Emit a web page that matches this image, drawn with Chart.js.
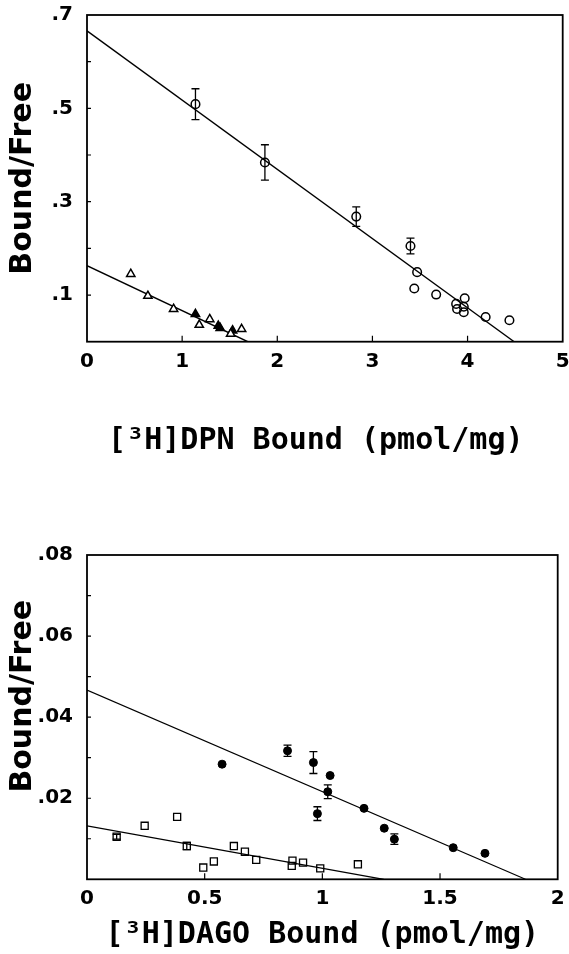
<!DOCTYPE html>
<html>
<head>
<meta charset="utf-8">
<script src="https://cdn.jsdelivr.net/npm/chart.js@4.4.1/dist/chart.umd.min.js"></script>
<style>
    body { margin: 0; background: #fff; }
    .panel { position: absolute; left: 0; width: 569px; }
    #topPanel { top: 0; height: 460px; }
    #bottomPanel { top: 460px; height: 494px; }
</style>
</head>
<body>
<div class="panel" id="topPanel"><canvas id="dpnChart"></canvas></div>
<div class="panel" id="bottomPanel"><canvas id="dagoChart"></canvas></div>
<script>
// [3H]DPN panel - open circles (with a few error bars)
let dpnX   = [1.14, 1.87, 2.83, 3.40, 3.47, 3.44, 3.67, 3.88, 3.89, 3.97, 3.96, 3.96, 4.19, 4.44];
let dpnY   = [0.509, 0.384, 0.268, 0.205, 0.149, 0.114, 0.101, 0.081, 0.070, 0.093, 0.075, 0.063, 0.053, 0.046];
let dpnErr = [0.033, 0.038, 0.021, 0.017, 0, 0, 0, 0, 0, 0, 0, 0, 0, 0];

// [3H]DPN panel - triangles (open and filled)
let triOpenX   = [0.46, 0.64, 0.91, 1.18, 1.29, 1.51, 1.625];
let triOpenY   = [0.145, 0.098, 0.070, 0.036, 0.048, 0.017, 0.027];
let triFilledX = [1.14, 1.38, 1.40, 1.53];
let triFilledY = [0.059, 0.034, 0.029, 0.024];

// [3H]DPN fit lines (end points)
let dpnFitHighX = [0, 4.49];
let dpnFitHighY = [0.666, 0];
let dpnFitLowX  = [0, 1.69];
let dpnFitLowY  = [0.163, 0];

// [3H]DAGO panel - filled circles
let dagoX   = [0.574, 0.852, 0.962, 1.033, 1.023, 0.979, 1.177, 1.263, 1.306, 1.556, 1.691];
let dagoY   = [0.0284, 0.0317, 0.0288, 0.0256, 0.0216, 0.0162, 0.0175, 0.0126, 0.0099, 0.0078, 0.0064];
let dagoErr = [0, 0.0014, 0.0027, 0, 0.0017, 0.0017, 0, 0, 0.0013, 0, 0];

// [3H]DAGO panel - open squares
let sqX   = [0.126, 0.245, 0.383, 0.424, 0.494, 0.539, 0.624, 0.671, 0.719, 0.873, 0.870, 0.918, 0.991, 1.151];
let sqY   = [0.0105, 0.0132, 0.0154, 0.0082, 0.0029, 0.0044, 0.0082, 0.0068, 0.0048, 0.0046, 0.0033, 0.0041, 0.0027, 0.0037];
let sqErr = [0.0006, 0, 0, 0.0009, 0, 0, 0, 0, 0, 0, 0, 0, 0, 0];

// [3H]DAGO fit lines
let dagoFitHighX = [0, 1.863];
let dagoFitHighY = [0.0467, 0];
let dagoFitLowX  = [0, 1.261];
let dagoFitLowY  = [0.0132, 0];

// axis ticks
let dpnXTicks  = [0, 1, 2, 3, 4, 5];
let dagoXTicks = [0, 0.5, 1, 1.5, 2];

function toPoints(xs, ys) {
    return xs.map((x, i) => ({ x: x, y: ys[i] }));
}

// Error bars, drawn through the chart's own scales
const errorBarPlugin = {
    id: 'errorBars',
    afterDatasetsDraw(chart) {
        const ctx = chart.ctx;
        const xs = chart.scales.x, ys = chart.scales.y;
        ctx.save();
        ctx.strokeStyle = '#000';
        ctx.lineWidth = 1.3;
        chart.data.datasets.forEach(ds => {
            if (!ds.errorBars) return;
            ds.data.forEach((p, i) => {
                const e = ds.errorBars[i];
                if (!e) return;
                const x = xs.getPixelForValue(p.x);
                const y1 = ys.getPixelForValue(p.y + e);
                const y2 = ys.getPixelForValue(p.y - e);
                ctx.beginPath();
                ctx.moveTo(x, y1); ctx.lineTo(x, y2);
                ctx.moveTo(x - 4, y1); ctx.lineTo(x + 4, y1);
                ctx.moveTo(x - 4, y2); ctx.lineTo(x + 4, y2);
                ctx.stroke();
            });
        });
        ctx.restore();
    }
};

// Box round the plot plus small inward tick marks
const framePlugin = {
    id: 'frame',
    afterDraw(chart) {
        const ctx = chart.ctx;
        const a = chart.chartArea;
        const xs = chart.scales.x, ys = chart.scales.y;
        ctx.save();
        ctx.strokeStyle = '#000';
        ctx.lineWidth = 1.8;
        ctx.strokeRect(a.left, a.top, a.right - a.left, a.bottom - a.top);
        ctx.lineWidth = 1.2;
        ctx.beginPath();
        ys.ticks.forEach(t => {
            if (t.value <= ys.min || t.value >= ys.max) return;
            const y = ys.getPixelForValue(t.value);
            ctx.moveTo(a.left, y); ctx.lineTo(a.left + 4, y);
        });
        xs.ticks.forEach(t => {
            if (t.value <= xs.min || t.value >= xs.max) return;
            const x = xs.getPixelForValue(t.value);
            ctx.moveTo(x, a.bottom); ctx.lineTo(x, a.bottom - 6);
        });
        ctx.stroke();
        ctx.restore();
    }
};

const tickFont = { family: 'DejaVu Sans', weight: 'bold', size: 20 };
const yTitleFont = { family: 'DejaVu Sans', weight: 'bold', size: 30, lineHeight: 1.2 };
const xTitleFont = { family: 'DejaVu Sans Mono', weight: 'bold', size: 30, lineHeight: 1 };

function makeOptions(cfg) {
    return {
        responsive: true,
        maintainAspectRatio: false,
        animation: false,
        layout: { padding: { top: cfg.padTop, right: cfg.padRight, left: 0, bottom: 0 } },
        plugins: { legend: { display: false }, tooltip: { enabled: false } },
        scales: {
            x: {
                type: 'linear',
                min: cfg.xTicks[0],
                max: cfg.xTicks[cfg.xTicks.length - 1],
                afterBuildTicks: scale => { scale.ticks = cfg.xTicks.map(v => ({ value: v })); },
                afterFit: scale => {
                    scale.height = cfg.xHeight;
                    scale.paddingLeft = 0;
                    scale.paddingRight = 0;
                },
                grid: { drawOnChartArea: false, drawTicks: false },
                border: { display: false },
                ticks: {
                    font: tickFont, color: '#000', padding: cfg.xLabelPad, maxRotation: 0,
                    callback: v => String(v)
                },
                title: {
                    display: true, text: cfg.xTitle, color: '#000', font: xTitleFont,
                    padding: { top: 0, bottom: 4 }
                }
            },
            y: {
                type: 'linear',
                min: 0,
                max: cfg.yMax,
                afterFit: scale => {
                    scale.width = 87;
                    scale.paddingTop = 0;
                    scale.paddingBottom = 0;
                },
                grid: { drawOnChartArea: false, drawTicks: false },
                border: { display: false },
                ticks: {
                    stepSize: cfg.yStep, font: tickFont, color: '#000', padding: 14,
                    autoSkip: false, callback: cfg.yLabel
                },
                title: {
                    display: true, text: cfg.yTitle, color: '#000', font: yTitleFont,
                    padding: { top: 5, bottom: 0 }
                }
            }
        }
    };
}

new Chart(document.getElementById('dpnChart'), {
    type: 'scatter',
    data: {
        datasets: [
            {
                data: toPoints(dpnX, dpnY), errorBars: dpnErr,
                pointStyle: 'circle', pointRadius: 4.3, borderColor: '#000',
                backgroundColor: 'rgba(0,0,0,0)', borderWidth: 1.5
            },
            {
                data: toPoints(triOpenX, triOpenY),
                pointStyle: 'triangle', pointRadius: 4.8, borderColor: '#000',
                backgroundColor: '#fff', borderWidth: 1.5
            },
            {
                data: toPoints(triFilledX, triFilledY),
                pointStyle: 'triangle', pointRadius: 4.8, borderColor: '#000',
                backgroundColor: '#000', borderWidth: 1.5
            },
            {
                data: toPoints(dpnFitHighX, dpnFitHighY), showLine: true, pointRadius: 0,
                borderColor: '#000', borderWidth: 1.4
            },
            {
                data: toPoints(dpnFitLowX, dpnFitLowY), showLine: true, pointRadius: 0,
                borderColor: '#000', borderWidth: 1.4
            }
        ]
    },
    options: makeOptions({
        padTop: 15, padRight: 6, xHeight: 118.3, xLabelPad: 8,
        xTicks: dpnXTicks, xTitle: '[³H]DPN Bound (pmol/mg) ',
        yMax: 0.7, yStep: 0.1, yTitle: 'Bound/Free',
        yLabel: v => { const k = Math.round(v * 10); return k % 2 === 1 ? '.' + k : ''; }
    }),
    plugins: [errorBarPlugin, framePlugin]
});

new Chart(document.getElementById('dagoChart'), {
    type: 'scatter',
    data: {
        datasets: [
            {
                data: toPoints(dagoX, dagoY), errorBars: dagoErr,
                pointStyle: 'circle', pointRadius: 4, borderColor: '#000',
                backgroundColor: '#000', borderWidth: 1
            },
            {
                data: toPoints(sqX, sqY), errorBars: sqErr,
                pointStyle: 'rect', pointRadius: 5, borderColor: '#000',
                backgroundColor: 'rgba(0,0,0,0)', borderWidth: 1.3
            },
            {
                data: toPoints(dagoFitHighX, dagoFitHighY), showLine: true, pointRadius: 0,
                borderColor: '#000', borderWidth: 1.2
            },
            {
                data: toPoints(dagoFitLowX, dagoFitLowY), showLine: true, pointRadius: 0,
                borderColor: '#000', borderWidth: 1.2
            }
        ]
    },
    options: makeOptions({
        padTop: 95, padRight: 11.3, xHeight: 74.7, xLabelPad: 7,
        xTicks: dagoXTicks, xTitle: '[³H]DAGO Bound (pmol/mg)',
        yMax: 0.08, yStep: 0.01, yTitle: '    Bound/Free',
        yLabel: v => { const k = Math.round(v * 100); return (k > 0 && k % 2 === 0) ? '.0' + k : ''; }
    }),
    plugins: [errorBarPlugin, framePlugin]
});
</script>
</body>
</html>
